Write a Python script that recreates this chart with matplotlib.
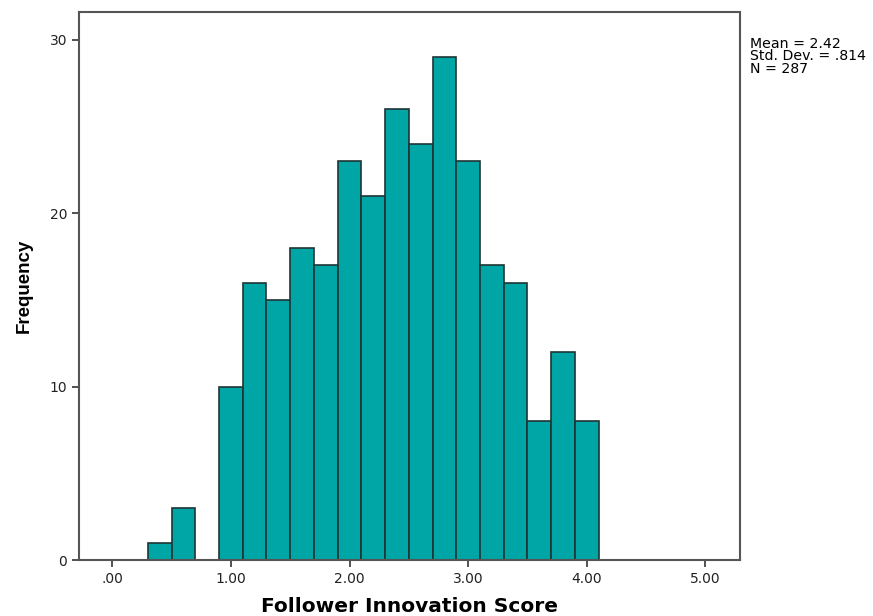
import numpy as np
import matplotlib
matplotlib.use('Agg')
import matplotlib.pyplot as plt

plt.rcParams['font.family'] = ['DejaVu Sans']

# histogram bins (width 0.2) and counts
bin_edges = [0.3, 0.5, 0.7, 0.9, 1.1, 1.3, 1.5, 1.7, 1.9, 2.1, 2.3,
             2.5, 2.7, 2.9, 3.1, 3.3, 3.5, 3.7, 3.9, 4.1]
counts = [1, 3, 0, 10, 16, 15, 18, 17, 23, 21, 26, 24, 29, 23, 17, 16, 8, 12, 8]
xticks = [0, 1, 2, 3, 4, 5]
xtick_labels = ['.00', '1.00', '2.00', '3.00', '4.00', '5.00']
yticks = [0, 10, 20, 30]
stats_text = 'Mean = 2.42\nStd. Dev. = .814\nN = 287'

fig = plt.figure(figsize=(8.73, 6.16), dpi=100)
ax = fig.add_axes([0.0905, 0.0909, 0.757, 0.8896])

edges = np.array(bin_edges)
widths = np.diff(edges)
for left, w, c in zip(edges[:-1], widths, counts):
    if c > 0:
        ax.bar(left, c, width=w, align='edge', color='#00a5a5',
               edgecolor='#1f3535', linewidth=1.2)

ax.set_xlim(-0.28, 5.29)
ax.set_ylim(0, 31.6)
ax.set_xticks(xticks)
ax.set_xticklabels(xtick_labels)
ax.set_yticks(yticks)
ax.tick_params(direction='out', length=5, width=1.2, colors='#333333',
               labelsize=10, labelcolor='#222222')
for s in ax.spines.values():
    s.set_color('#555555')
    s.set_linewidth(1.5)

ax.set_xlabel('Follower Innovation Score', fontsize=14.5, fontweight='bold',
              labelpad=8)
ax.set_ylabel('Frequency', fontsize=13.5, fontweight='bold', labelpad=12,
              family=['Liberation Sans'])

fig.text(0.859, 0.94, stats_text, fontsize=10.2, va='top', ha='left',
         linespacing=0.85)

fig.savefig('out.png', dpi=100)
